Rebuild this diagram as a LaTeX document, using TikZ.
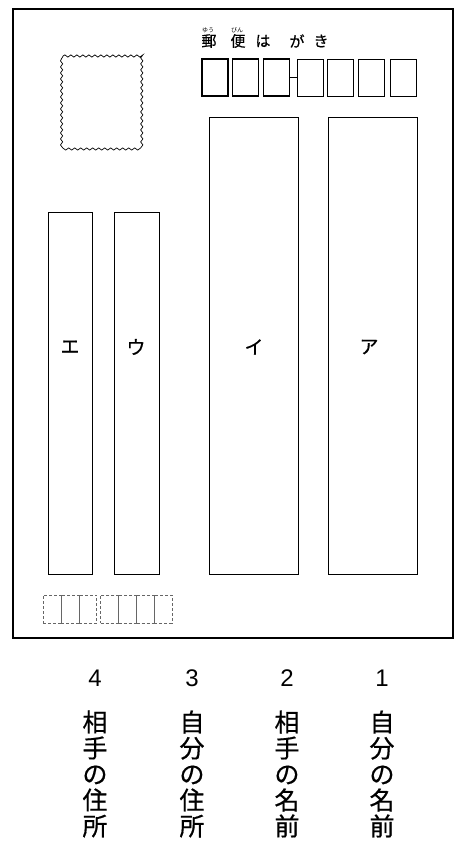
\documentclass[tikz,border=0pt]{standalone}
\usepackage{fontspec}
\usepackage{tikz}
\usetikzlibrary{decorations.pathmorphing}
\newfontfamily\jpfont[FakeBold=0.6]{Noto Sans CJK JP}
\newfontfamily\rubyfont{Noto Sans CJK JP}
\newfontfamily\numfont{Liberation Sans}

\tikzset{
  codebox/.style={draw, minimum width=26pt, minimum height=37pt, inner sep=0pt, line width=0.9pt},
  thickcode/.style={codebox, line width=1.8pt},
  dashbox/.style={draw, dashed, dash pattern=on 3pt off 2pt, gray!80!black, minimum width=17.8pt, minimum height=28pt, inner sep=0pt, line width=0.6pt},
  colbox/.style={draw, line width=0.9pt},
  title/.style={font=\jpfont\fontsize{15}{15}\selectfont},
  tag/.style={font=\jpfont\fontsize{19}{19}\selectfont},
  tatelabel/.style={font=\jpfont\fontsize{25}{26}\selectfont, align=center, inner sep=0pt},
  numlabel/.style={font=\numfont\fontsize{24}{24}\selectfont, inner sep=0pt}
}

\begin{document}
\begin{tikzpicture}[x=1pt,y=-1pt]
    \useasboundingbox (0,0) rectangle (454,856);
    % card
    \draw[line width=1.1pt] (13,9) rectangle (453,638);
    % stamp
    \draw[decorate, decoration={snake, segment length=6pt, amplitude=1.1pt}, line width=0.7pt]
        (63,56) -- (141,56) -- (141,148) -- (63,148) -- cycle;
    % title with ruby
    \node[title] (yu) at (209,41) {郵};
    \node[title] (bin) at (238,41) {便};
    \node[title] (ha) at (263,41) {は};
    \node[title] (ga) at (297,41) {が};
    \node[title] (ki) at (321,41) {き};
    \node[font=\rubyfont\fontsize{6}{6}\selectfont, inner sep=0pt] (ruby1) at (208,30.5) {ゆう};
    \node[font=\rubyfont\fontsize{6}{6}\selectfont, inner sep=0pt] (ruby2) at (237,30.5) {びん};
    % postal code
    \foreach \i/\x in {1/215,2/245.5,3/276.5}
        \node[thickcode] (c\i) at (\x,77.5) {};
    \foreach \i/\x in {4/310,5/340.5,6/371.5,7/403.5}
        \node[codebox] (c\i) at (\x,77.5) {};
    \draw[line width=0.8pt] (c3.east) -- (c4.west);
    % columns
    \draw[colbox] (48,212) rectangle (92,574);
    \draw[colbox] (114,212) rectangle (159,574);
    \draw[colbox] (209,117) rectangle (298,574);
    \draw[colbox] (328,117) rectangle (417,574);
    \node[tag] (e) at (70,347) {エ};
    \node[tag] (u) at (136,347) {ウ};
    \node[tag] (i) at (254,347) {イ};
    \node[tag] (a) at (369,347) {ア};
    % own code
    \foreach \i/\x in {1/52.2,2/70,3/87.8,4/109.6,5/127.5,6/145.4,7/163.3}
        \node[dashbox] (d\i) at (\x,609) {};
    % answers
    \node[numlabel] (n4) at (95,678) {4};
    \node[numlabel] (n3) at (192,678) {3};
    \node[numlabel] (n2) at (287,678) {2};
    \node[numlabel] (n1) at (382,678) {1};
    \node[tatelabel] (t4) at (95,774) {相\\手\\の\\住\\所};
    \node[tatelabel] (t3) at (192,774) {自\\分\\の\\住\\所};
    \node[tatelabel] (t2) at (287,774) {相\\手\\の\\名\\前};
    \node[tatelabel] (t1) at (382,774) {自\\分\\の\\名\\前};
\end{tikzpicture}
\end{document}
